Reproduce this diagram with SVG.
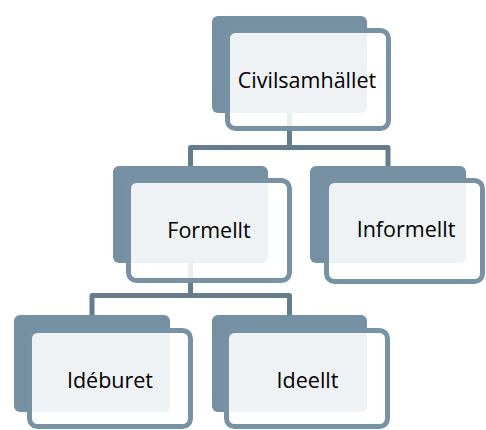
<svg xmlns="http://www.w3.org/2000/svg" width="486" height="430" viewBox="0 0 486 430">
<style>
.back{fill:#7590a2}
.front{fill:#ffffff;fill-opacity:0.88;stroke:#7792a4;stroke-width:5}
.conn{fill:none;stroke:#637d8d;stroke-width:5;stroke-linejoin:round}
.lbl{font-family:"Open Sans","Noto Sans",sans-serif;font-size:21.5px;fill:#000;text-anchor:middle}
</style>
<rect width="486" height="430" fill="#ffffff"/>
<g id="connectors">
<path class="conn" d="M289.5,113 V147.5 H190.5 V166 M289.5,147.5 H388 V166"/>
<path class="conn" d="M190.5,262 V295.5 H92 V315 M190.5,295.5 H289.5 V315"/>
</g>
<g id="civilsamhallet">
<rect class="back" x="212" y="16" width="155" height="97" rx="6"/>
<rect class="front" x="227.5" y="30.5" width="161" height="98" rx="8"/>
<text class="lbl" x="307" y="88">Civilsamhället</text>
</g>
<g id="formellt">
<rect class="back" x="113" y="166" width="155" height="97" rx="6"/>
<rect class="front" x="128.5" y="180.5" width="161" height="100" rx="8"/>
<text class="lbl" x="209" y="238">Formellt</text>
</g>
<g id="informellt">
<rect class="back" x="310" y="166" width="156" height="97" rx="6"/>
<rect class="front" x="326.5" y="180.5" width="156" height="101" rx="8"/>
<text class="lbl" x="406" y="237">Informellt</text>
</g>
<g id="ideburet">
<rect class="back" x="14" y="315" width="156" height="97" rx="6"/>
<rect class="front" x="29.5" y="330.5" width="161" height="96" rx="8"/>
<text class="lbl" x="110" y="388">Idéburet</text>
</g>
<g id="ideellt">
<rect class="back" x="212" y="315" width="155" height="97" rx="6"/>
<rect class="front" x="226.5" y="330.5" width="161" height="96" rx="8"/>
<text class="lbl" x="307.5" y="388">Ideellt</text>
</g>
</svg>
